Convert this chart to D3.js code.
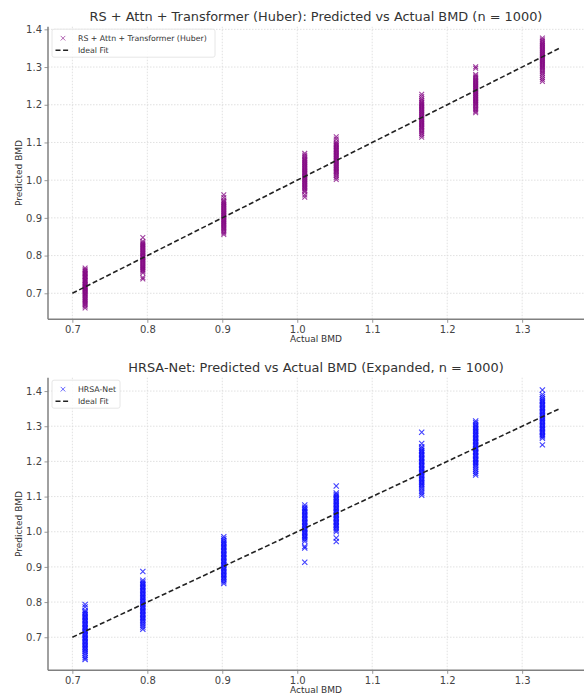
<!DOCTYPE html>
<html>
<head>
<meta charset="utf-8">
<script src="https://cdn.jsdelivr.net/npm/d3@7"></script>
<style>
  html, body { margin: 0; padding: 0; background: #fff; }
  svg { display: block; font-family: "DejaVu Sans", sans-serif; }
</style>
</head>
<body>
<svg id="chart" width="585" height="696"></svg>
<script>
// ---- Data ----
const actualBMD = [0.717, 0.794, 0.902, 1.010, 1.052, 1.166, 1.238, 1.327];
const xTicks = [0.7, 0.8, 0.9, 1.0, 1.1, 1.2, 1.3];
const yTicks = [0.7, 0.8, 0.9, 1.0, 1.1, 1.2, 1.3, 1.4];
const idealFit = [0.70, 1.35];

const predHuber = [
  [0.767,0.763,0.760,0.757,0.754,0.752,0.749,0.746,0.744,0.741,0.738,0.735,0.733,0.730,0.727,0.724,0.722,0.719,0.717,0.715,0.713,0.710,0.708,0.705,0.702,0.699,0.697,0.694,0.691,0.688,0.685,0.682,0.679,0.676,0.673,0.670,0.666,0.661],
  [0.848,0.838,0.834,0.831,0.828,0.825,0.822,0.819,0.816,0.813,0.810,0.807,0.804,0.801,0.798,0.796,0.794,0.791,0.788,0.785,0.782,0.779,0.776,0.773,0.770,0.767,0.764,0.761,0.758,0.754,0.742,0.738],
  [0.961,0.954,0.947,0.943,0.940,0.937,0.934,0.931,0.928,0.925,0.922,0.919,0.916,0.913,0.910,0.907,0.904,0.901,0.898,0.895,0.892,0.889,0.886,0.883,0.880,0.877,0.874,0.871,0.868,0.864,0.860,0.856],
  [1.071,1.066,1.062,1.058,1.055,1.052,1.049,1.046,1.043,1.040,1.037,1.034,1.031,1.028,1.025,1.022,1.019,1.016,1.013,1.010,1.007,1.004,1.001,0.998,0.995,0.992,0.989,0.986,0.983,0.980,0.977,0.973,0.969,0.961,0.955],
  [1.115,1.109,1.102,1.098,1.095,1.092,1.089,1.086,1.083,1.080,1.077,1.074,1.071,1.068,1.065,1.062,1.059,1.056,1.053,1.050,1.047,1.044,1.041,1.038,1.035,1.032,1.029,1.026,1.023,1.020,1.016,1.012,1.007,1.002],
  [1.228,1.222,1.216,1.212,1.208,1.205,1.202,1.199,1.196,1.193,1.190,1.187,1.184,1.181,1.178,1.175,1.172,1.169,1.166,1.163,1.160,1.157,1.154,1.151,1.148,1.145,1.142,1.139,1.136,1.132,1.128,1.124,1.119,1.114],
  [1.301,1.297,1.280,1.276,1.272,1.268,1.265,1.262,1.259,1.256,1.253,1.250,1.247,1.244,1.241,1.238,1.235,1.232,1.229,1.226,1.223,1.220,1.217,1.214,1.211,1.208,1.205,1.202,1.199,1.195,1.191,1.187,1.183,1.179],
  [1.377,1.372,1.368,1.364,1.361,1.358,1.355,1.352,1.349,1.346,1.343,1.340,1.337,1.334,1.331,1.328,1.325,1.322,1.319,1.316,1.313,1.310,1.307,1.304,1.301,1.298,1.295,1.291,1.287,1.283,1.278,1.272,1.267,1.262]
];

const predHRSA = [
  [0.793,0.786,0.776,0.772,0.768,0.764,0.760,0.756,0.752,0.748,0.744,0.740,0.736,0.732,0.728,0.724,0.720,0.716,0.712,0.708,0.704,0.700,0.696,0.692,0.688,0.684,0.680,0.676,0.672,0.668,0.664,0.659,0.654,0.648,0.642,0.637],
  [0.887,0.862,0.857,0.853,0.849,0.845,0.841,0.837,0.833,0.829,0.825,0.821,0.817,0.813,0.809,0.805,0.801,0.797,0.793,0.789,0.785,0.781,0.777,0.773,0.769,0.765,0.761,0.757,0.753,0.749,0.745,0.740,0.735,0.729,0.723],
  [0.986,0.980,0.975,0.971,0.967,0.963,0.959,0.955,0.951,0.947,0.943,0.939,0.935,0.931,0.927,0.923,0.919,0.915,0.911,0.907,0.903,0.899,0.895,0.891,0.887,0.883,0.879,0.875,0.871,0.867,0.863,0.858,0.853],
  [1.076,1.070,1.066,1.062,1.058,1.054,1.050,1.046,1.042,1.038,1.034,1.030,1.026,1.022,1.018,1.014,1.010,1.006,1.002,0.998,0.994,0.990,0.986,0.982,0.978,0.973,0.958,0.954,0.913],
  [1.130,1.110,1.106,1.102,1.098,1.094,1.090,1.086,1.082,1.078,1.074,1.070,1.066,1.062,1.058,1.054,1.050,1.046,1.042,1.038,1.034,1.030,1.026,1.022,1.018,1.014,1.010,1.005,1.000,0.982,0.972],
  [1.283,1.251,1.242,1.237,1.232,1.228,1.224,1.220,1.216,1.212,1.208,1.204,1.200,1.196,1.192,1.188,1.184,1.180,1.176,1.172,1.168,1.164,1.160,1.156,1.152,1.148,1.144,1.140,1.136,1.132,1.127,1.122,1.116,1.110,1.104],
  [1.315,1.310,1.305,1.301,1.297,1.293,1.289,1.285,1.281,1.277,1.273,1.269,1.265,1.261,1.257,1.253,1.249,1.245,1.241,1.237,1.233,1.229,1.225,1.221,1.217,1.213,1.209,1.205,1.201,1.197,1.193,1.189,1.184,1.178,1.172,1.166,1.161],
  [1.403,1.390,1.384,1.378,1.374,1.370,1.366,1.362,1.358,1.354,1.350,1.346,1.342,1.338,1.334,1.330,1.326,1.322,1.318,1.314,1.310,1.306,1.302,1.298,1.294,1.290,1.286,1.282,1.278,1.274,1.270,1.266,1.247]
];

const panels = [
  { title: "RS + Attn + Transformer (Huber): Predicted vs Actual BMD (n = 1000)",
    label: "RS + Attn + Transformer (Huber)", preds: predHuber, color: "#800080",
    top: 26.7, bottom: 319.3, yDomain: [0.631, 1.407], legendW: 163, r: 2.4 },
  { title: "HRSA-Net: Predicted vs Actual BMD (Expanded, n = 1000)",
    label: "HRSA-Net", preds: predHRSA, color: "#0000ff",
    top: 377.7, bottom: 670.3, yDomain: [0.606, 1.438], legendW: 68, r: 2.6 }
];

const svg = d3.select("#chart");
svg.append("rect").attr("width", 585).attr("height", 696).attr("fill", "#fff");

const left = 48, right = 584;
const x = d3.scaleLinear().domain([0.6675, 1.3825]).range([left, right]);

function xMarker(r) {
  return `M${-r},${-r}L${r},${r}M${-r},${r}L${r},${-r}`;
}

panels.forEach(p => {
  const y = d3.scaleLinear().domain(p.yDomain).range([p.bottom, p.top]);
  const g = svg.append("g");

  // grid
  g.append("g").selectAll("line").data(xTicks).join("line")
    .attr("x1", d => x(d)).attr("x2", d => x(d))
    .attr("y1", p.top).attr("y2", p.bottom)
    .attr("stroke", "#d9d9d9").attr("stroke-width", 0.8).attr("stroke-dasharray", "1.5,1.5");
  g.append("g").selectAll("line").data(yTicks).join("line")
    .attr("x1", left).attr("x2", right)
    .attr("y1", d => y(d)).attr("y2", d => y(d))
    .attr("stroke", "#d9d9d9").attr("stroke-width", 0.8).attr("stroke-dasharray", "1.5,1.5");

  // axes
  const xAxis = d3.axisBottom(x).tickValues(xTicks).tickFormat(d3.format(".1f")).tickSize(3.5).tickPadding(3);
  const yAxis = d3.axisLeft(y).tickValues(yTicks).tickFormat(d3.format(".1f")).tickSize(3.5).tickPadding(2.5);
  const gx = g.append("g").attr("transform", `translate(0,${p.bottom})`).call(xAxis);
  const gy = g.append("g").attr("transform", `translate(${left},0)`).call(yAxis);
  [gx, gy].forEach(a => {
    a.select(".domain").attr("stroke", "#808080").attr("stroke-width", 1.5);
    a.selectAll(".tick line").attr("stroke", "#808080").attr("stroke-width", 0.8);
    a.selectAll(".tick text").attr("fill", "#444").attr("font-size", 10)
      .attr("font-family", "DejaVu Sans, sans-serif");
  });
  gx.select(".domain").attr("d", `M${left},0H${right}`);
  gy.select(".domain").attr("d", `M0,${p.bottom}V${p.top}`);

  // points
  const pts = [];
  p.preds.forEach((col, i) => col.forEach(v => pts.push([actualBMD[i], v])));
  g.append("g").selectAll("path").data(pts).join("path")
    .attr("transform", d => `translate(${x(d[0])},${y(d[1])})`)
    .attr("d", xMarker(p.r))
    .attr("fill", "none").attr("stroke", p.color).attr("stroke-width", 1.1)
    .attr("stroke-opacity", 0.75);

  // ideal line
  g.append("line")
    .attr("x1", x(idealFit[0])).attr("y1", y(idealFit[0]))
    .attr("x2", x(idealFit[1])).attr("y2", y(idealFit[1]))
    .attr("stroke", "#222").attr("stroke-width", 1.6).attr("stroke-dasharray", "5,2.6");

  // title
  svg.append("text").attr("x", (left + right) / 2).attr("y", p.top - 6)
    .attr("text-anchor", "middle").attr("font-size", 12.9).attr("fill", "#333")
    .text(p.title);

  // axis labels
  svg.append("text").attr("x", (left + right) / 2).attr("y", p.bottom + 23)
    .attr("text-anchor", "middle").attr("font-size", 9).attr("fill", "#333")
    .text("Actual BMD");
  svg.append("text")
    .attr("transform", `translate(22,${(p.top + p.bottom) / 2}) rotate(-90)`)
    .attr("text-anchor", "middle").attr("font-size", 9).attr("fill", "#333")
    .text("Predicted BMD");

  // legend
  const lg = svg.append("g").attr("transform", `translate(52,${p.top + 2.5})`);
  lg.append("rect").attr("width", p.legendW).attr("height", 28).attr("rx", 2)
    .attr("fill", "#fff").attr("fill-opacity", 0.85)
    .attr("stroke", "#e0e0e0").attr("stroke-width", 0.8);
  lg.append("path").attr("transform", "translate(11,9)").attr("d", xMarker(2.3))
    .attr("fill", "none").attr("stroke", p.color).attr("stroke-opacity", 0.6).attr("stroke-width", 1);
  lg.append("text").attr("x", 26).attr("y", 11.8).attr("font-size", 7.8).attr("fill", "#333").text(p.label);
  lg.append("line").attr("x1", 3.5).attr("x2", 18.5).attr("y1", 21).attr("y2", 21)
    .attr("stroke", "#222").attr("stroke-width", 1.6).attr("stroke-dasharray", "5,2.6");
  lg.append("text").attr("x", 26).attr("y", 23.8).attr("font-size", 7.8).attr("fill", "#333").text("Ideal Fit");
});
</script>
</body>
</html>
